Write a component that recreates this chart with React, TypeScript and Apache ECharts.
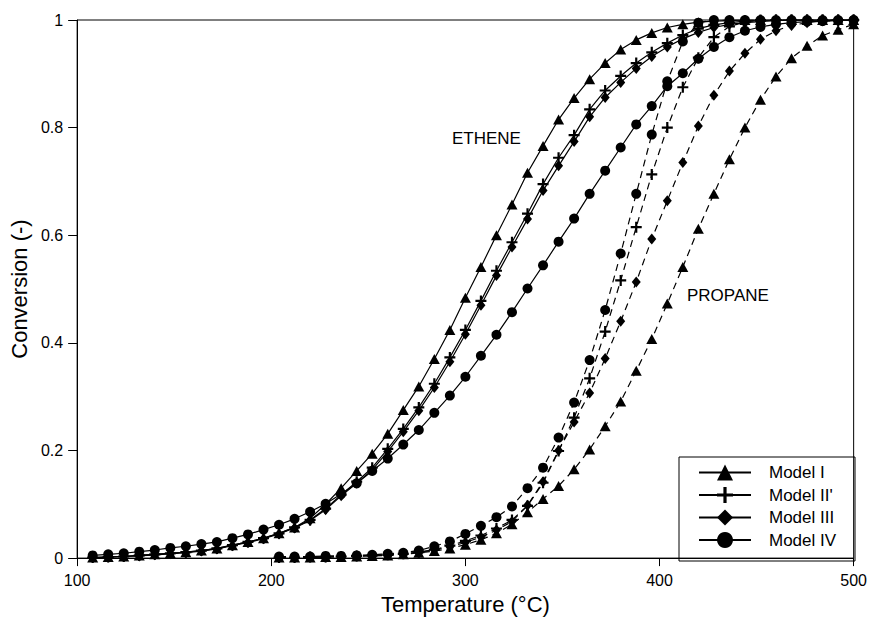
import React, { useEffect, useRef } from "react";
import * as echarts from "echarts";

// Temperatures (°C) of the model points
const temps = [
  108, 116, 124, 132, 140, 148, 156, 164, 172, 180,
  188, 196, 204, 212, 220, 228, 236, 244, 252, 260,
  268, 276, 284, 292, 300, 308, 316, 324, 332, 340,
  348, 356, 364, 372, 380, 388, 396, 404, 412, 420,
  428, 436, 444, 452, 460, 468, 476, 484, 492, 500,
];
// propane points start at 204 °C
const propaneTemps = temps.slice(12);

// ETHENE conversion (solid lines)
const etheneI = [
  0.001, 0.002, 0.003, 0.005, 0.007, 0.009, 0.011, 0.014, 0.018, 0.024,
  0.030, 0.037, 0.046, 0.057, 0.074, 0.100, 0.130, 0.162, 0.194, 0.231,
  0.275, 0.319, 0.370, 0.424, 0.484, 0.541, 0.600, 0.657, 0.716, 0.766,
  0.815, 0.855, 0.890, 0.920, 0.945, 0.963, 0.976, 0.986, 0.992, 0.996,
  0.998, 0.999, 1, 1, 1, 1, 1, 1, 1, 1,
];
const etheneII = [
  0.001, 0.002, 0.003, 0.005, 0.007, 0.009, 0.011, 0.014, 0.018, 0.024,
  0.030, 0.037, 0.046, 0.057, 0.071, 0.092, 0.118, 0.142, 0.168, 0.203,
  0.240, 0.280, 0.324, 0.373, 0.424, 0.478, 0.534, 0.587, 0.640, 0.695,
  0.744, 0.786, 0.834, 0.869, 0.896, 0.920, 0.940, 0.957, 0.972, 0.984,
  0.991, 0.995, 0.998, 0.999, 1, 1, 1, 1, 1, 1,
];
const etheneIII = [
  0.001, 0.002, 0.003, 0.004, 0.006, 0.008, 0.010, 0.013, 0.017, 0.023,
  0.029, 0.036, 0.045, 0.056, 0.070, 0.090, 0.116, 0.139, 0.164, 0.198,
  0.235, 0.274, 0.317, 0.365, 0.416, 0.470, 0.525, 0.578, 0.630, 0.683,
  0.729, 0.774, 0.820, 0.856, 0.884, 0.910, 0.932, 0.950, 0.965, 0.977,
  0.986, 0.992, 0.995, 0.997, 0.999, 1, 1, 1, 1, 1,
];
const etheneIV = [
  0.005, 0.007, 0.009, 0.012, 0.015, 0.019, 0.022, 0.026, 0.030, 0.037,
  0.044, 0.053, 0.062, 0.073, 0.086, 0.101, 0.119, 0.139, 0.162, 0.185,
  0.211, 0.238, 0.270, 0.302, 0.337, 0.376, 0.415, 0.457, 0.501, 0.544,
  0.588, 0.631, 0.677, 0.720, 0.763, 0.806, 0.840, 0.877, 0.901, 0.928,
  0.950, 0.968, 0.980, 0.987, 0.992, 0.995, 0.997, 0.998, 0.999, 1,
];

// PROPANE conversion (dashed lines)
const propaneI = [
  0.001, 0.001, 0.001, 0.002, 0.002, 0.003, 0.004, 0.005, 0.007, 0.010,
  0.013, 0.018, 0.025, 0.034, 0.046, 0.063, 0.085, 0.110, 0.134, 0.165,
  0.202, 0.245, 0.291, 0.348, 0.407, 0.473, 0.541, 0.612, 0.677, 0.741,
  0.800, 0.852, 0.895, 0.929, 0.952, 0.971, 0.982, 0.992,
];
const propaneII = [
  0.001, 0.001, 0.002, 0.002, 0.003, 0.004, 0.005, 0.006, 0.008, 0.011,
  0.016, 0.023, 0.032, 0.042, 0.055, 0.071, 0.097, 0.140, 0.199, 0.261,
  0.334, 0.421, 0.516, 0.615, 0.713, 0.800, 0.875, 0.930, 0.968, 0.988,
  0.996, 1, 1, 1, 1, 1, 1, 1,
];
const propaneIII = [
  0.001, 0.001, 0.002, 0.002, 0.003, 0.004, 0.005, 0.006, 0.008, 0.011,
  0.015, 0.021, 0.029, 0.039, 0.052, 0.068, 0.098, 0.142, 0.200, 0.253,
  0.307, 0.371, 0.440, 0.513, 0.593, 0.664, 0.735, 0.803, 0.860, 0.905,
  0.938, 0.964, 0.980, 0.990, 0.995, 0.998, 0.999, 1,
];
const propaneIV = [
  0.003, 0.003, 0.003, 0.004, 0.004, 0.005, 0.006, 0.008, 0.010, 0.014,
  0.022, 0.031, 0.045, 0.060, 0.076, 0.096, 0.130, 0.168, 0.224, 0.289,
  0.368, 0.461, 0.566, 0.677, 0.787, 0.886, 0.960, 0.995, 1, 1,
  1, 1, 1, 1, 1, 1, 1, 1,
];

const modelNames = ["Model I", "Model II'", "Model III", "Model IV"];
const xTicks = [100, 200, 300, 400, 500];
const FONT = "'Liberation Sans', Arial, Helvetica, sans-serif";

const PLUS = "path://M4,0H6V4H10V6H6V10H4V6H0V4H4Z";
const symbols = ["triangle", PLUS, "diamond", "circle"];
const symbolSizes = [[11, 10], 11, [9, 11], 10];

function pairs(xs: number[], ys: number[]) {
  return ys.map((y, i) => [xs[i], y]);
}

export default function App() {
  const ref = useRef<HTMLDivElement>(null);

  useEffect(() => {
    if (!ref.current) return;
    const chart = echarts.init(ref.current, undefined, { renderer: "svg" });
    const ethene = [etheneI, etheneII, etheneIII, etheneIV];
    const propane = [propaneI, propaneII, propaneIII, propaneIV];

    const series: any[] = [];
    ethene.forEach((ys, i) => {
      series.push({
        name: modelNames[i],
        type: "line",
        data: pairs(temps, ys),
        symbol: symbols[i],
        symbolSize: symbolSizes[i],
        showAllSymbol: true,
        lineStyle: { color: "#000", width: 1.2, type: "solid" },
        itemStyle: { color: "#000" },
        z: 3 + i,
      });
    });
    propane.forEach((ys, i) => {
      series.push({
        name: modelNames[i] + " propane",
        type: "line",
        data: pairs(propaneTemps, ys),
        symbol: symbols[i],
        symbolSize: symbolSizes[i],
        showAllSymbol: true,
        lineStyle: { color: "#000", width: 1.2, type: [7, 5] },
        itemStyle: { color: "#000" },
        z: 3 + i,
      });
    });

    chart.setOption({
      animation: false,
      backgroundColor: "#fff",
      textStyle: { fontFamily: FONT },
      grid: {
        left: 77,
        right: 15,
        top: 20,
        bottom: 59,
        show: true,
        borderColor: "#000",
        borderWidth: 1,
        backgroundColor: "transparent",
      },
      xAxis: {
        type: "value",
        min: xTicks[0],
        max: xTicks[xTicks.length - 1],
        interval: 100,
        name: "Temperature (°C)",
        nameLocation: "middle",
        nameGap: 34,
        nameTextStyle: { fontSize: 22, color: "#000", fontFamily: FONT },
        axisLine: { lineStyle: { color: "#000", width: 1 } },
        axisTick: { show: true, inside: false, length: 8, lineStyle: { color: "#000" } },
        axisLabel: { fontSize: 16, color: "#000", margin: 14, fontFamily: FONT },
        splitLine: { show: false },
      },
      yAxis: {
        type: "value",
        min: 0,
        max: 1,
        interval: 0.2,
        name: "Conversion (-)",
        nameLocation: "middle",
        nameGap: 44,
        nameTextStyle: { fontSize: 22, color: "#000", fontFamily: FONT },
        axisLine: { show: true, lineStyle: { color: "#000", width: 1 } },
        axisTick: { show: true, inside: false, length: 9, lineStyle: { color: "#000" } },
        axisLabel: { fontSize: 16, color: "#000", margin: 14, fontFamily: FONT },
        splitLine: { show: false },
      },
      legend: {
        data: modelNames,
        orient: "vertical",
        left: 698,
        top: 464,
        padding: 0,
        itemWidth: 52,
        itemHeight: 20,
        itemGap: 5.5,
        selectedMode: false,
        textStyle: { fontSize: 17, color: "#000", fontFamily: FONT, padding: [0, 0, 0, 13] },
      },
      graphic: [
        {
          type: "rect",
          shape: { x: 679, y: 457, width: 176, height: 104 },
          style: { fill: "none", stroke: "#000", lineWidth: 1 },
          z: 1,
        },
        {
          type: "text",
          left: 452,
          top: 130,
          style: { text: "ETHENE", fontSize: 17, fill: "#000", fontFamily: FONT },
        },
        {
          type: "text",
          left: 687,
          top: 287,
          style: { text: "PROPANE", fontSize: 17, fill: "#000", fontFamily: FONT },
        },
      ],
      series,
    });

    return () => chart.dispose();
  }, []);

  return (
    <div
      ref={ref}
      style={{ position: "fixed", left: 0, top: 0, width: 870, height: 620, background: "#fff" }}
    />
  );
}
